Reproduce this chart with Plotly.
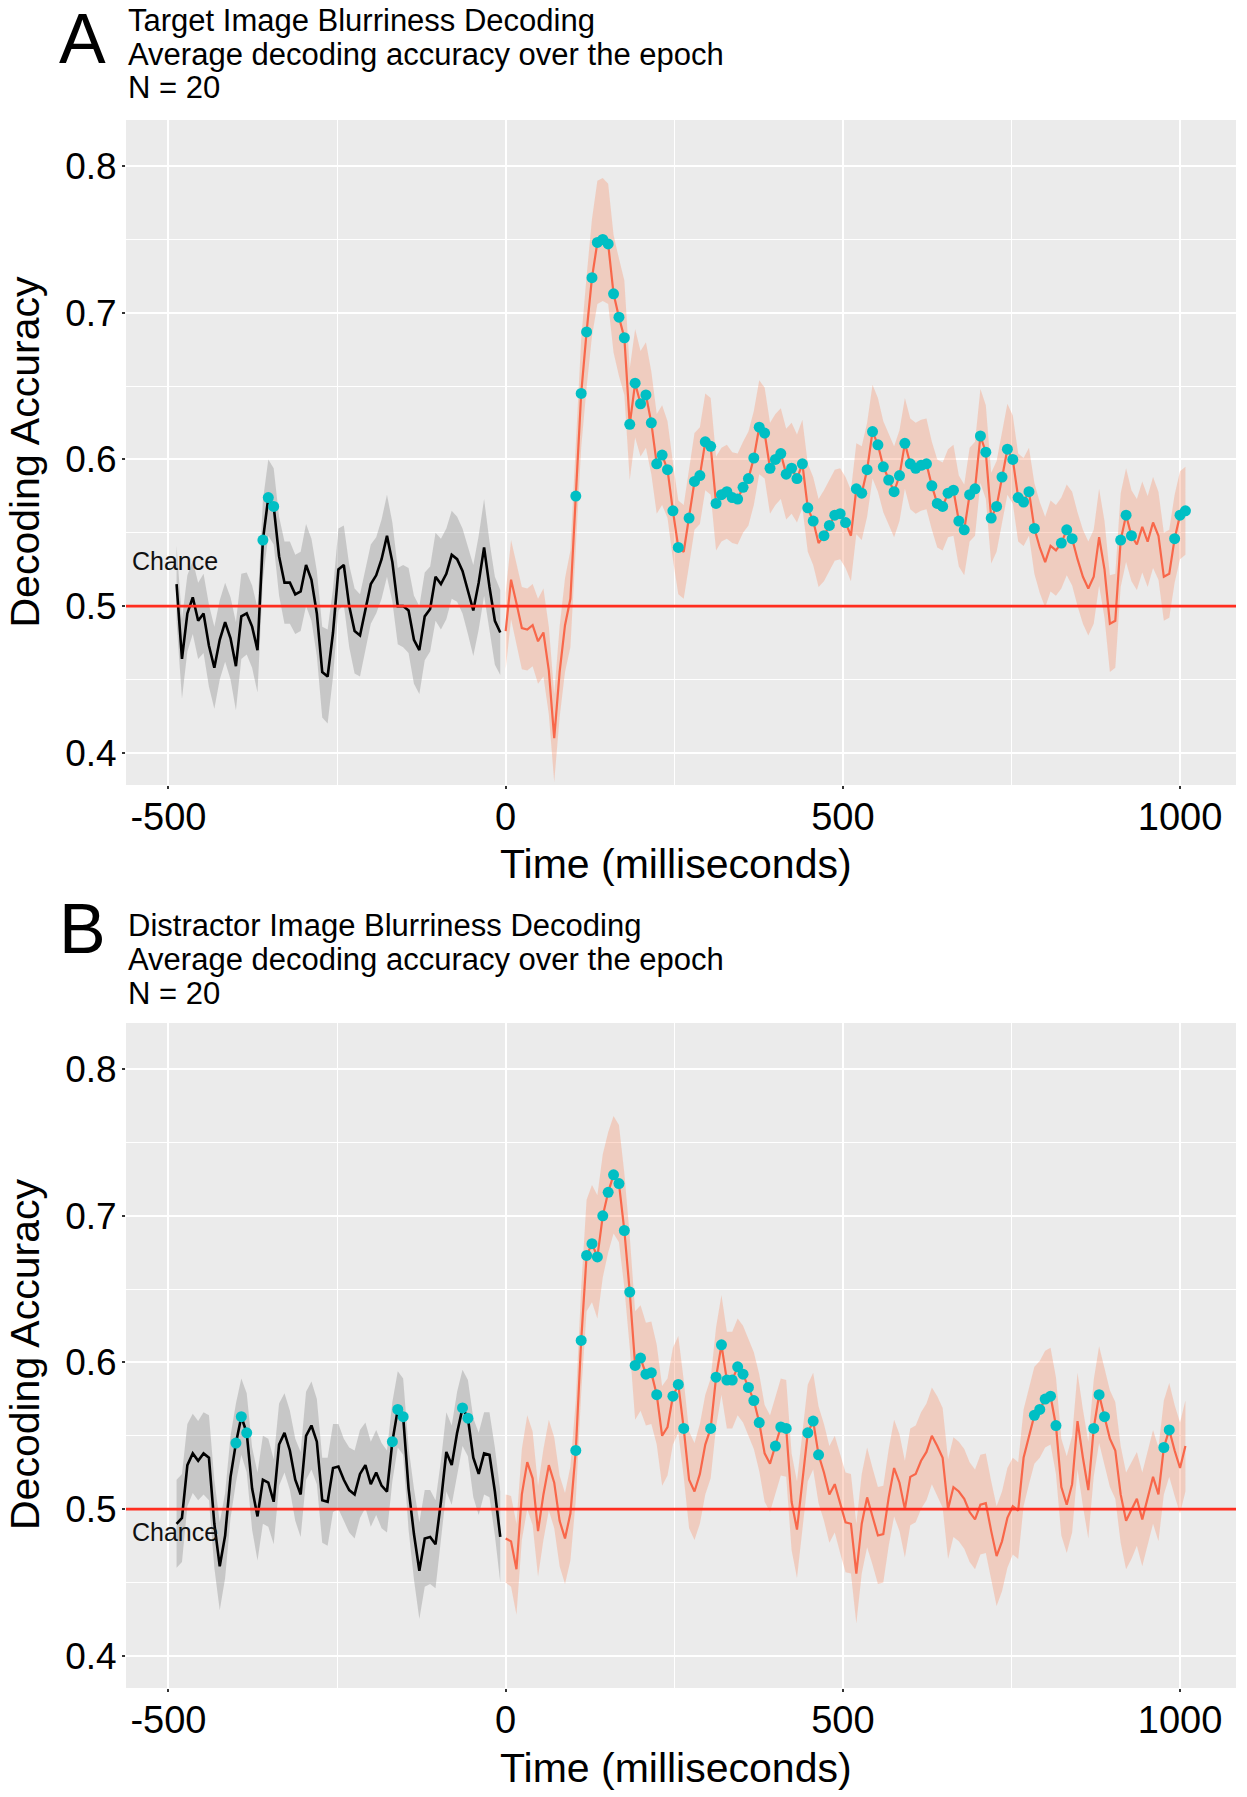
import plotly.graph_objects as go

# ---------------- data ----------------
t_pre = list(range(-488, 0, 8))      # pre-stimulus samples (ms)
t_post = list(range(0, 1009, 8))     # post-stimulus samples (ms)

# Panel A: Target image blurriness decoding
a_pre = [0.515, 0.464, 0.495, 0.506, 0.490, 0.495, 0.473, 0.458, 0.477, 0.489,
         0.478, 0.459, 0.493, 0.495, 0.486, 0.470, 0.545, 0.574, 0.568, 0.534,
         0.516, 0.516, 0.508, 0.510, 0.528, 0.518, 0.495, 0.455, 0.452, 0.482,
         0.525, 0.528, 0.500, 0.483, 0.480, 0.497, 0.515, 0.521, 0.532, 0.548,
         0.530, 0.500, 0.500, 0.497, 0.477, 0.470, 0.493, 0.498, 0.520, 0.515,
         0.522, 0.535, 0.532, 0.524, 0.511, 0.497, 0.516, 0.540, 0.513, 0.490,
         0.482]
a_pre_hw = [0.026, 0.027, 0.026, 0.025, 0.026, 0.027, 0.028, 0.028, 0.027, 0.027,
            0.028, 0.030, 0.029, 0.028, 0.028, 0.029, 0.027, 0.026, 0.026, 0.027,
            0.028, 0.028, 0.027, 0.027, 0.028, 0.028, 0.029, 0.031, 0.032, 0.030,
            0.028, 0.027, 0.028, 0.029, 0.028, 0.027, 0.027, 0.026, 0.027, 0.028,
            0.027, 0.026, 0.028, 0.029, 0.030, 0.030, 0.030, 0.029, 0.030, 0.031,
            0.031, 0.030, 0.029, 0.029, 0.030, 0.031, 0.032, 0.033, 0.031, 0.030,
            0.029]
a_post = [0.483, 0.518, 0.502, 0.485, 0.484, 0.487, 0.476, 0.482, 0.456, 0.410,
          0.455, 0.487, 0.505, 0.575, 0.645, 0.687, 0.724, 0.748, 0.750, 0.747,
          0.713, 0.697, 0.683, 0.624, 0.652, 0.638, 0.644, 0.625, 0.597, 0.603,
          0.593, 0.565, 0.540, 0.537, 0.560, 0.585, 0.589, 0.612, 0.609, 0.570,
          0.576, 0.578, 0.574, 0.573, 0.581, 0.587, 0.601, 0.622, 0.618, 0.594,
          0.600, 0.604, 0.590, 0.594, 0.587, 0.597, 0.567, 0.558, 0.543, 0.548,
          0.555, 0.562, 0.563, 0.557, 0.548, 0.580, 0.577, 0.593, 0.619, 0.610,
          0.595, 0.586, 0.578, 0.589, 0.611, 0.597, 0.594, 0.596, 0.597, 0.582,
          0.570, 0.568, 0.577, 0.579, 0.558, 0.552, 0.576, 0.580, 0.616, 0.605,
          0.560, 0.568, 0.588, 0.607, 0.600, 0.574, 0.571, 0.578, 0.553, 0.540,
          0.530, 0.541, 0.538, 0.543, 0.552, 0.546, 0.532, 0.520, 0.512, 0.520,
          0.547, 0.525, 0.488, 0.490, 0.545, 0.562, 0.548, 0.542, 0.554, 0.544,
          0.557, 0.548, 0.520, 0.522, 0.546, 0.562, 0.565]
a_post_hw = [0.026, 0.027, 0.027, 0.028, 0.028, 0.028, 0.029, 0.030, 0.030, 0.030,
             0.031, 0.032, 0.033, 0.035, 0.037, 0.038, 0.040, 0.042, 0.042, 0.041,
             0.040, 0.040, 0.039, 0.038, 0.037, 0.036, 0.036, 0.035, 0.034, 0.034,
             0.033, 0.033, 0.032, 0.032, 0.032, 0.033, 0.033, 0.033, 0.033, 0.032,
             0.032, 0.032, 0.031, 0.031, 0.031, 0.032, 0.032, 0.032, 0.031, 0.031,
             0.031, 0.031, 0.031, 0.031, 0.030, 0.030, 0.030, 0.030, 0.030, 0.031,
             0.031, 0.031, 0.031, 0.031, 0.031, 0.031, 0.032, 0.032, 0.032, 0.032,
             0.031, 0.031, 0.031, 0.031, 0.031, 0.031, 0.031, 0.031, 0.031, 0.030,
             0.030, 0.030, 0.030, 0.031, 0.031, 0.031, 0.032, 0.032, 0.032, 0.032,
             0.031, 0.031, 0.031, 0.031, 0.030, 0.030, 0.030, 0.030, 0.031, 0.031,
             0.031, 0.031, 0.031, 0.031, 0.031, 0.032, 0.032, 0.032, 0.032, 0.032,
             0.033, 0.033, 0.033, 0.032, 0.032, 0.032, 0.031, 0.031, 0.031, 0.031,
             0.031, 0.030, 0.030, 0.030, 0.030, 0.030, 0.030]
a_sig = [(-362, -340), (104, 256), (270, 456), (470, 506), (516, 790),
         (820, 845), (910, 928), (990, 1012)]

# Panel B: Distractor image blurriness decoding
b_pre = [0.490, 0.494, 0.530, 0.538, 0.533, 0.538, 0.535, 0.490, 0.461, 0.482,
         0.522, 0.545, 0.563, 0.552, 0.514, 0.495, 0.520, 0.518, 0.505, 0.544,
         0.552, 0.540, 0.520, 0.510, 0.550, 0.557, 0.546, 0.506, 0.505, 0.528,
         0.529, 0.520, 0.513, 0.510, 0.524, 0.530, 0.517, 0.525, 0.516, 0.512,
         0.546, 0.568, 0.563, 0.514, 0.483, 0.458, 0.480, 0.481, 0.476, 0.505,
         0.539, 0.530, 0.552, 0.569, 0.562, 0.535, 0.524, 0.538, 0.537, 0.512,
         0.481]
b_pre_hw = [0.030, 0.030, 0.028, 0.027, 0.027, 0.028, 0.029, 0.030, 0.030, 0.029,
            0.028, 0.027, 0.026, 0.027, 0.028, 0.030, 0.030, 0.030, 0.029, 0.028,
            0.027, 0.027, 0.028, 0.029, 0.030, 0.030, 0.029, 0.029, 0.030, 0.030,
            0.029, 0.028, 0.029, 0.030, 0.030, 0.029, 0.029, 0.029, 0.029, 0.028,
            0.027, 0.026, 0.026, 0.028, 0.031, 0.033, 0.033, 0.032, 0.030, 0.028,
            0.027, 0.027, 0.028, 0.026, 0.026, 0.027, 0.028, 0.028, 0.029, 0.030,
            0.031]
b_post = [0.480, 0.478, 0.459, 0.510, 0.532, 0.521, 0.485, 0.510, 0.530, 0.518,
          0.492, 0.480, 0.497, 0.540, 0.615, 0.673, 0.681, 0.672, 0.700, 0.716,
          0.728, 0.722, 0.690, 0.648, 0.598, 0.603, 0.592, 0.593, 0.578, 0.550,
          0.556, 0.577, 0.585, 0.555, 0.520, 0.512, 0.524, 0.544, 0.555, 0.590,
          0.612, 0.588, 0.588, 0.597, 0.592, 0.583, 0.574, 0.559, 0.538, 0.531,
          0.543, 0.556, 0.555, 0.505, 0.486, 0.521, 0.552, 0.560, 0.537, 0.525,
          0.510, 0.517, 0.504, 0.491, 0.490, 0.456, 0.490, 0.508, 0.495, 0.482,
          0.483, 0.508, 0.528, 0.518, 0.500, 0.522, 0.524, 0.533, 0.539, 0.550,
          0.543, 0.535, 0.500, 0.515, 0.512, 0.507, 0.498, 0.493, 0.503, 0.504,
          0.485, 0.468, 0.478, 0.494, 0.502, 0.499, 0.535, 0.550, 0.564, 0.568,
          0.575, 0.577, 0.557, 0.515, 0.503, 0.517, 0.560, 0.535, 0.513, 0.555,
          0.578, 0.563, 0.548, 0.540, 0.510, 0.492, 0.499, 0.507, 0.493, 0.508,
          0.522, 0.510, 0.542, 0.554, 0.540, 0.528, 0.543]
b_post_hw = [0.030, 0.031, 0.031, 0.031, 0.032, 0.032, 0.031, 0.031, 0.031, 0.031,
             0.031, 0.031, 0.032, 0.034, 0.036, 0.038, 0.040, 0.042, 0.042, 0.041,
             0.040, 0.040, 0.039, 0.038, 0.037, 0.036, 0.035, 0.035, 0.034, 0.034,
             0.033, 0.033, 0.033, 0.033, 0.033, 0.033, 0.034, 0.034, 0.034, 0.034,
             0.034, 0.033, 0.033, 0.033, 0.033, 0.033, 0.033, 0.033, 0.033, 0.033,
             0.033, 0.033, 0.033, 0.033, 0.033, 0.033, 0.033, 0.033, 0.033, 0.033,
             0.033, 0.033, 0.034, 0.034, 0.034, 0.034, 0.034, 0.034, 0.033, 0.033,
             0.033, 0.033, 0.033, 0.033, 0.033, 0.033, 0.033, 0.033, 0.033, 0.033,
             0.034, 0.034, 0.034, 0.034, 0.034, 0.034, 0.034, 0.034, 0.034, 0.034,
             0.034, 0.034, 0.034, 0.034, 0.033, 0.033, 0.033, 0.033, 0.033, 0.033,
             0.033, 0.033, 0.033, 0.033, 0.033, 0.033, 0.033, 0.033, 0.033, 0.033,
             0.033, 0.033, 0.033, 0.033, 0.033, 0.033, 0.033, 0.032, 0.032, 0.032,
             0.032, 0.032, 0.032, 0.032, 0.031, 0.031, 0.031]
b_sig = [(-402, -380), (-170, -150), (-70, -54), (104, 228), (244, 264),
         (304, 378), (400, 420), (444, 466), (780, 818), (870, 890), (970, 990)]

CHANCE = 0.5
x_ticks = [-500, 0, 500, 1000]
x_tick_text = ["-500", "0", "500", "1000"]
y_ticks = [0.4, 0.5, 0.6, 0.7, 0.8]
y_tick_text = ["0.4", "0.5", "0.6", "0.7", "0.8"]

panel_titles = {
    "A": ["Target Image Blurriness Decoding",
          "Average decoding accuracy over the epoch", "N = 20"],
    "B": ["Distractor Image Blurriness Decoding",
          "Average decoding accuracy over the epoch", "N = 20"],
}

# ---------------- style ----------------
FONT = "Liberation Sans, Arial, Helvetica, sans-serif"
W, H = 1247, 1797
ML, MR, MT, MB = 126, 11, 120, 109
PW, PH = W - ML - MR, H - MT - MB

GRAY_FILL = "rgba(150,150,150,0.42)"
ORANGE_FILL = "rgba(250,140,100,0.32)"
ORANGE_LINE = "#F8674A"
TEAL = "#00BFC4"
RED = "#FF2D1F"


def px_to_paper_y(ypx):
    return (H - MB - ypx) / PH


def px_to_paper_x(xpx):
    return (xpx - ML) / PW


fig = go.Figure()


def add_panel(xa, ya, m_pre, hw_pre, m_post, hw_post, sig):
    for t, m, hw, fill in ((t_pre, m_pre, hw_pre, GRAY_FILL),
                           (t_post, m_post, hw_post, ORANGE_FILL)):
        up = [v + h for v, h in zip(m, hw)]
        lo = [v - h for v, h in zip(m, hw)]
        fig.add_trace(go.Scatter(x=t + t[::-1], y=up + lo[::-1], fill="toself",
                                 fillcolor=fill, line=dict(width=0), mode="lines",
                                 hoverinfo="skip", showlegend=False,
                                 xaxis=xa, yaxis=ya))
    fig.add_trace(go.Scatter(x=t_pre, y=m_pre, mode="lines",
                             line=dict(color="black", width=2.6),
                             showlegend=False, xaxis=xa, yaxis=ya))
    fig.add_trace(go.Scatter(x=t_post, y=m_post, mode="lines",
                             line=dict(color=ORANGE_LINE, width=2.2),
                             showlegend=False, xaxis=xa, yaxis=ya))
    sx, sy = [], []
    for t, m in zip(t_pre + t_post, m_pre + m_post):
        if any(lo <= t <= hi for lo, hi in sig):
            sx.append(t)
            sy.append(m)
    fig.add_trace(go.Scatter(x=sx, y=sy, mode="markers",
                             marker=dict(color=TEAL, size=11, line=dict(width=0)),
                             showlegend=False, xaxis=xa, yaxis=ya))


add_panel("x", "y", a_pre, a_pre_hw, a_post, a_post_hw, a_sig)
add_panel("x2", "y2", b_pre, b_pre_hw, b_post, b_post_hw, b_sig)

x_range = [-563, 1083]
y_range = [0.378, 0.8315]

common_x = dict(range=x_range, tickvals=x_ticks, ticktext=x_tick_text,
                showgrid=True, gridcolor="white", automargin=False,
                gridwidth=2, zeroline=False, showline=False, ticks="outside",
                ticklen=3, tickwidth=1.5, tickcolor="#333333",
                ticklabelstandoff=-5,
                tickfont=dict(family=FONT, size=38, color="black"),
                minor=dict(dtick=250, tick0=0, showgrid=True, gridcolor="white",
                           gridwidth=1, ticks=""))
common_y = dict(range=y_range, tickvals=y_ticks, ticktext=y_tick_text,
                showgrid=True, gridcolor="white", gridwidth=2, zeroline=False,
                showline=False, ticks="outside", ticklen=3, tickwidth=1.5,
                tickcolor="#333333", automargin=False, ticklabelstandoff=-2,
                tickfont=dict(family=FONT, size=37, color="black"),
                minor=dict(dtick=0.05, tick0=0.4, showgrid=True, gridcolor="white",
                           gridwidth=1, ticks=""))

dom_a = [px_to_paper_y(785), 1.0]
dom_b = [0.0, px_to_paper_y(1023)]

fig.update_layout(
    width=W, height=H,
    margin=dict(l=ML, r=MR, t=MT, b=MB, autoexpand=False),
    paper_bgcolor="white", plot_bgcolor="#EBEBEB",
    showlegend=False,
    font=dict(family=FONT, color="black"),
    xaxis=dict(domain=[0, 1], anchor="y", **common_x),
    yaxis=dict(domain=dom_a, anchor="x", **common_y),
    xaxis2=dict(domain=[0, 1], anchor="y2", **common_x),
    yaxis2=dict(domain=dom_b, anchor="x2", **common_y),
)

# chance lines
for xr, yr in (("x", "y"), ("x2", "y2")):
    fig.add_shape(type="line", xref=f"{xr} domain", yref=yr, x0=0, x1=1,
                  y0=CHANCE, y1=CHANCE, line=dict(color=RED, width=2.6),
                  layer="above")

annotations = []
# chance labels
annotations.append(dict(x=-490, y=0.531, xref="x", yref="y", text="Chance",
                        showarrow=False, font=dict(family=FONT, size=25, color="#111111"),
                        xanchor="center", yanchor="middle"))
annotations.append(dict(x=-490, y=0.4846, xref="x2", yref="y2", text="Chance",
                        showarrow=False, font=dict(family=FONT, size=25, color="#111111"),
                        xanchor="center", yanchor="middle"))

# panel letters and titles
for letter, letter_y, line_ys in (("A", 39, (21, 54.5, 88)),
                                  ("B", 929, (925, 959, 993))):
    annotations.append(dict(x=px_to_paper_x(57), y=px_to_paper_y(letter_y),
                            xref="paper", yref="paper", text=letter,
                            showarrow=False, xanchor="left", yanchor="middle",
                            font=dict(family=FONT, size=70, color="black")))
    for txt, ly in zip(panel_titles[letter], line_ys):
        annotations.append(dict(x=0, y=px_to_paper_y(ly), xref="paper", yref="paper",
                                text=txt, showarrow=False, xanchor="left",
                                yanchor="middle",
                                font=dict(family=FONT, size=31, color="black")))

# axis titles
for cy_x, cy_y in ((864, 452.5), (1768, 1355)):
    annotations.append(dict(x=px_to_paper_x(676), y=px_to_paper_y(cy_x),
                            xref="paper", yref="paper", text="Time (milliseconds)",
                            showarrow=False, xanchor="center", yanchor="middle",
                            font=dict(family=FONT, size=41, color="black")))
    annotations.append(dict(x=px_to_paper_x(25), y=px_to_paper_y(cy_y),
                            xref="paper", yref="paper", text="Decoding Accuracy",
                            showarrow=False, xanchor="center", yanchor="middle",
                            textangle=-90,
                            font=dict(family=FONT, size=41, color="black")))

fig.update_layout(annotations=annotations)

fig.write_html("out.html",
               config={"displayModeBar": False},
               post_script="document.body.style.margin='0px';"
                           "document.body.style.overflow='hidden';")
